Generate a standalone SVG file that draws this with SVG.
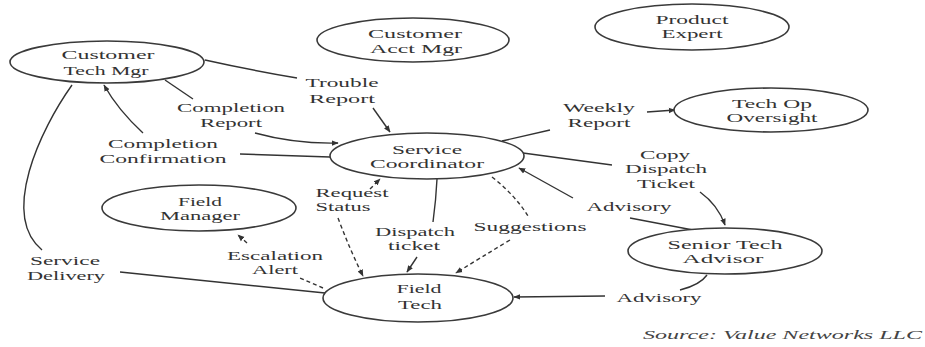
<svg xmlns="http://www.w3.org/2000/svg" width="925" height="347" viewBox="0 0 925 347">
<style>
.n{fill:#fff;stroke:#3a3a3a;stroke-width:1.6}
.t{font-family:"Liberation Serif","Times New Roman",serif;font-size:13px;fill:#333;text-anchor:middle}
.l{fill:none;stroke:#333;stroke-width:1.4}
.d{stroke-dasharray:4 3}
.s{font-family:"Liberation Serif","Times New Roman",serif;font-size:13px;font-style:italic;fill:#444}
</style>
<defs>
<marker id="a" viewBox="0 0 10 10" refX="9" refY="5" markerWidth="7" markerHeight="7" markerUnits="userSpaceOnUse" orient="auto">
<path d="M0,1 L10,5 L0,9 z" fill="#333"/>
</marker>
</defs>
<rect width="925" height="347" fill="#fff"/>
<g id="connectors">
<path class="l" d="M205,60 Q250,70 297,78"/>
<path class="l" d="M373,108 L390,132" marker-end="url(#a)"/>
<path class="l" d="M165,80 L193,99"/>
<path class="l" d="M255,133 Q295,144 338,143" marker-end="url(#a)"/>
<path class="l" d="M330,157 L240,154"/>
<path class="l" d="M143,133 Q118,110 104,85" marker-end="url(#a)"/>
<path class="l" d="M72,85 C40,130 0,215 42,250"/>
<path class="l" d="M120,272 Q220,282 325,293"/>
<path class="l" d="M502,141 L550,130"/>
<path class="l" d="M647,112 L675,110" marker-end="url(#a)"/>
<path class="l" d="M523,153 L612,165"/>
<path class="l" d="M700,192 Q718,205 725,225" marker-end="url(#a)"/>
<path class="l" d="M693,230 L630,218"/>
<path class="l" d="M573,198 L519,168" marker-end="url(#a)"/>
<path class="l" d="M707,275 Q700,285 680,290"/>
<path class="l" d="M605,296 L514,297" marker-end="url(#a)"/>
<path class="l" d="M437,179 Q436,200 433,222"/>
<path class="l" d="M417,257 L407,272" marker-end="url(#a)"/>
<path class="l d" d="M338,218 Q350,250 363,276" marker-end="url(#a)"/>
<path class="l d" d="M370,189 L380,179" marker-end="url(#a)"/>
<path class="l d" d="M492,177 Q515,195 528,216"/>
<path class="l d" d="M510,240 Q480,258 456,273" marker-end="url(#a)"/>
<path class="l d" d="M323,288 L300,278"/>
<path class="l d" d="M247,243 L238,235" marker-end="url(#a)"/>
</g>
<g id="customer-tech-mgr">
<ellipse class="n" cx="107" cy="62" rx="97" ry="21"/>
<text class="t" x="108" y="59" textLength="93" lengthAdjust="spacingAndGlyphs">Customer</text>
<text class="t" x="106" y="75" textLength="85" lengthAdjust="spacingAndGlyphs">Tech Mgr</text>
</g>
<g id="customer-acct-mgr">
<ellipse class="n" cx="413" cy="40" rx="96" ry="22"/>
<text class="t" x="415" y="38" textLength="94" lengthAdjust="spacingAndGlyphs">Customer</text>
<text class="t" x="416" y="53" textLength="92" lengthAdjust="spacingAndGlyphs">Acct Mgr</text>
</g>
<g id="product-expert">
<ellipse class="n" cx="692" cy="27" rx="97" ry="23"/>
<text class="t" x="692" y="24" textLength="73" lengthAdjust="spacingAndGlyphs">Product</text>
<text class="t" x="692" y="38" textLength="61" lengthAdjust="spacingAndGlyphs">Expert</text>
</g>
<g id="tech-op-oversight">
<ellipse class="n" cx="771" cy="110" rx="97" ry="22"/>
<text class="t" x="772" y="108" textLength="80" lengthAdjust="spacingAndGlyphs">Tech Op</text>
<text class="t" x="772" y="122" textLength="91" lengthAdjust="spacingAndGlyphs">Oversight</text>
</g>
<g id="service-coordinator">
<ellipse class="n" cx="427" cy="156" rx="97" ry="23"/>
<text class="t" x="427" y="154" textLength="70" lengthAdjust="spacingAndGlyphs">Service</text>
<text class="t" x="427" y="168" textLength="114" lengthAdjust="spacingAndGlyphs">Coordinator</text>
</g>
<g id="field-manager">
<ellipse class="n" cx="199" cy="208" rx="97" ry="23"/>
<text class="t" x="200" y="206" textLength="44" lengthAdjust="spacingAndGlyphs">Field</text>
<text class="t" x="200" y="220" textLength="80" lengthAdjust="spacingAndGlyphs">Manager</text>
</g>
<g id="field-tech">
<ellipse class="n" cx="418" cy="298" rx="95" ry="24"/>
<text class="t" x="419" y="293" textLength="45" lengthAdjust="spacingAndGlyphs">Field</text>
<text class="t" x="420" y="309" textLength="44" lengthAdjust="spacingAndGlyphs">Tech</text>
</g>
<g id="senior-tech-advisor">
<ellipse class="n" cx="725" cy="251" rx="97" ry="23"/>
<text class="t" x="725" y="249" textLength="115" lengthAdjust="spacingAndGlyphs">Senior Tech</text>
<text class="t" x="723" y="263" textLength="81" lengthAdjust="spacingAndGlyphs">Advisor</text>
</g>
<g id="labels">
<text class="t" x="342" y="87" textLength="73" lengthAdjust="spacingAndGlyphs">Trouble</text>
<text class="t" x="342" y="103" textLength="66" lengthAdjust="spacingAndGlyphs">Report</text>
<text class="t" x="231" y="112" textLength="108" lengthAdjust="spacingAndGlyphs">Completion</text>
<text class="t" x="231" y="127" textLength="62" lengthAdjust="spacingAndGlyphs">Report</text>
<text class="t" x="163" y="148" textLength="110" lengthAdjust="spacingAndGlyphs">Completion</text>
<text class="t" x="163" y="163" textLength="127" lengthAdjust="spacingAndGlyphs">Confirmation</text>
<text class="t" x="599" y="112" textLength="72" lengthAdjust="spacingAndGlyphs">Weekly</text>
<text class="t" x="599" y="127" textLength="63" lengthAdjust="spacingAndGlyphs">Report</text>
<text class="t" x="665" y="159" textLength="50" lengthAdjust="spacingAndGlyphs">Copy</text>
<text class="t" x="666" y="173" textLength="82" lengthAdjust="spacingAndGlyphs">Dispatch</text>
<text class="t" x="666" y="188" textLength="58" lengthAdjust="spacingAndGlyphs">Ticket</text>
<text class="t" x="352" y="197" textLength="73" lengthAdjust="spacingAndGlyphs">Request</text>
<text class="t" x="343" y="211" textLength="55" lengthAdjust="spacingAndGlyphs">Status</text>
<text class="t" x="415" y="236" textLength="80" lengthAdjust="spacingAndGlyphs">Dispatch</text>
<text class="t" x="414" y="250" textLength="52" lengthAdjust="spacingAndGlyphs">ticket</text>
<text class="t" x="530" y="231" textLength="113" lengthAdjust="spacingAndGlyphs">Suggestions</text>
<text class="t" x="629" y="211" textLength="85" lengthAdjust="spacingAndGlyphs">Advisory</text>
<text class="t" x="659" y="302" textLength="85" lengthAdjust="spacingAndGlyphs">Advisory</text>
<text class="t" x="275" y="260" textLength="96" lengthAdjust="spacingAndGlyphs">Escalation</text>
<text class="t" x="275" y="274" textLength="46" lengthAdjust="spacingAndGlyphs">Alert</text>
<text class="t" x="65" y="265" textLength="70" lengthAdjust="spacingAndGlyphs">Service</text>
<text class="t" x="66" y="280" textLength="78" lengthAdjust="spacingAndGlyphs">Delivery</text>
<text class="s" x="643" y="339" textLength="279" lengthAdjust="spacingAndGlyphs">Source: Value Networks LLC</text>
</g>
</svg>
